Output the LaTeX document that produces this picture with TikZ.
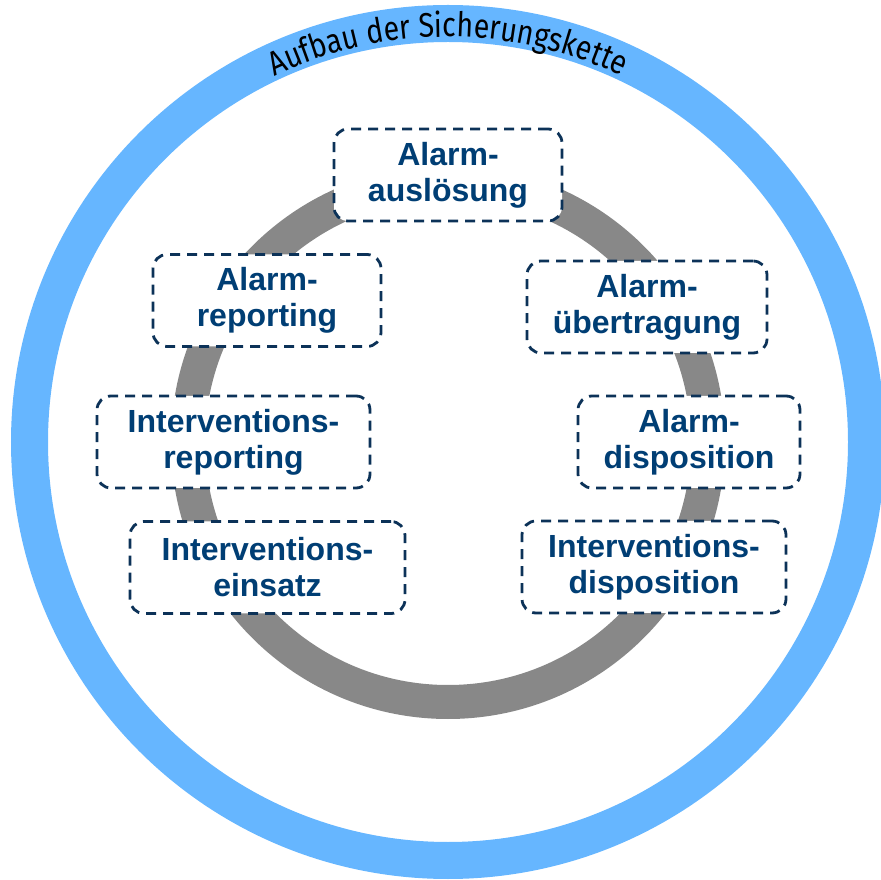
\documentclass[tikz,border=0pt]{standalone}
\usepackage{fontspec}
\setmainfont{Liberation Sans}
\newfontfamily\condfont[FakeStretch=0.84]{Fira Sans}
\usetikzlibrary{decorations.text,calc}
\definecolor{ringblue}{RGB}{102,182,255}
\definecolor{ringgray}{RGB}{136,136,136}
\definecolor{boxtext}{RGB}{0,62,116}
\definecolor{boxline}{RGB}{12,50,88}
\tikzset{
  stagebox/.style={draw=boxline, line width=2.8pt, dash pattern=on 10pt off 7pt,
    rounded corners=14pt, fill=white, text=boxtext, align=center,
    font=\bfseries\fontsize{32}{36}\selectfont, inner sep=0pt, minimum height=92pt}
}
\begin{document}
\begin{tikzpicture}[x=1pt,y=1pt]
\useasboundingbox (0,0) rectangle (881,879);
\clip (0,0) rectangle (881,879);
\coordinate (c) at (448,437);
% outer blue ring
\draw[ringblue, line width=37pt] (c) circle[radius=418.5];
% title along the ring
\path[decorate, decoration={text along path, text align=center,
  text={|\condfont\fontsize{34}{36}\selectfont|Aufbau der Sicherungskette}}]
  ($(c)+(170:405)$) arc[start angle=170, end angle=10, radius=405];
% gray ring
\draw[ringgray, line width=34pt] (c) circle[radius=260];
% stage boxes
\node[stagebox, minimum width=228pt] (ausl) at (448,704) {Alarm-\\auslösung};
\node[stagebox, minimum width=228pt] (arep) at (267,578.5) {Alarm-\\reporting};
\node[stagebox, minimum width=273pt] (irep) at (233.5,437) {Interventions-\\reporting};
\node[stagebox, minimum width=275pt] (iein) at (267.5,311.5) {Interventions-\\einsatz};
\node[stagebox, minimum width=240pt] (auebt) at (647,572) {Alarm-\\übertragung};
\node[stagebox, minimum width=222pt] (adisp) at (689,437) {Alarm-\\disposition};
\node[stagebox, minimum width=264pt] (idisp) at (654,312) {Interventions-\\disposition};
\end{tikzpicture}
\end{document}
